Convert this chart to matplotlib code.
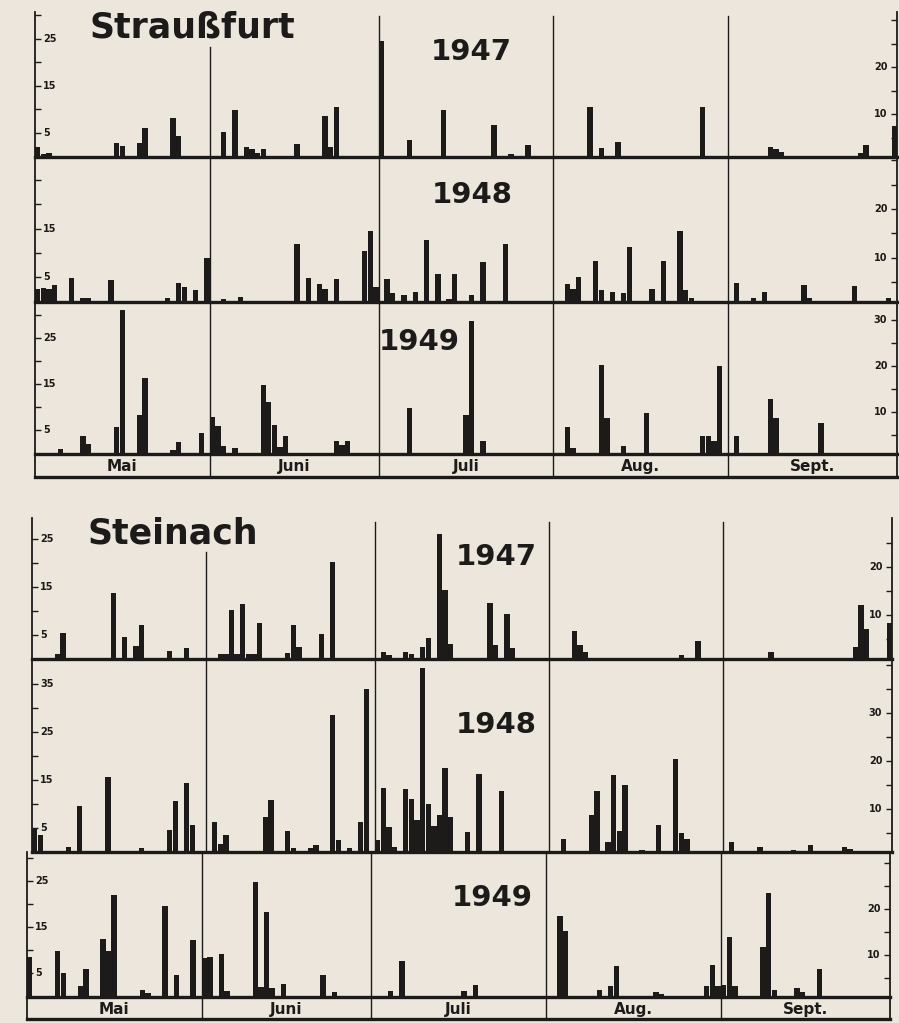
import numpy as np
import matplotlib.pyplot as plt

# Daily precipitation (mm), 1 May - 30 Sept; day 0 = 1 May
months = ['Mai', 'Juni', 'Juli', 'Aug.', 'Sept.']
month_days = [31, 30, 31, 31, 30]

# Straußfurt
strf_1947_day = [0, 1, 2, 14, 15, 18, 19, 24, 25, 33, 35, 37, 38, 39, 40, 46, 51, 52, 53, 61, 66, 72,
                 81, 84, 87, 98, 100, 103, 118, 130, 131, 132, 146, 147, 152]
strf_1947_mm = [2.0, 0.5, 0.8, 2.8, 2.2, 2.8, 6.0, 8.2, 4.3, 5.3, 9.9, 2.0, 1.5, 0.8, 1.6, 2.6, 8.7, 2.0,
                10.5, 24.5, 3.5, 9.9, 6.7, 0.6, 2.5, 10.6, 1.8, 3.0, 10.5, 2.1, 1.5, 1.0, 0.8, 2.5, 6.4]

strf_1948_day = [0, 1, 2, 3, 6, 8, 9, 13, 23, 25, 26, 28, 30, 33, 36, 46, 48, 50, 51, 53, 58, 59, 60,
                 62, 63, 65, 67, 69, 71, 73, 74, 77, 79, 83, 94, 95, 96, 99, 100, 102, 104, 105, 109,
                 111, 114, 115, 116, 124, 127, 129, 136, 137, 145, 151]
strf_1948_mm = [2.6, 2.8, 2.6, 3.4, 4.9, 0.8, 0.8, 4.4, 0.8, 3.7, 3.0, 2.4, 9.0, 0.6, 1.0, 11.8, 4.9,
                3.6, 2.5, 4.7, 10.4, 14.5, 2.9, 4.6, 1.8, 1.3, 2.0, 12.6, 5.6, 0.6, 5.6, 1.4, 8.2, 11.8,
                3.6, 2.5, 5.1, 8.4, 2.4, 2.0, 1.7, 11.1, 2.6, 8.4, 14.4, 2.4, 0.8, 3.9, 0.7, 1.9, 3.3,
                0.8, 3.2, 0.7]

strf_1949_day = [4, 8, 9, 14, 15, 18, 19, 24, 25, 29, 31, 32, 33, 35, 40, 41, 42, 43, 44, 53, 54, 55,
                 66, 76, 77, 79, 94, 95, 100, 101, 104, 108, 118, 119, 120, 121, 124, 130, 131, 139]
strf_1949_mm = [0.9, 3.8, 2.0, 5.8, 31.2, 8.3, 16.5, 0.7, 2.5, 4.5, 8.0, 5.9, 1.6, 1.2, 14.9, 11.2, 6.2,
                1.5, 3.8, 2.7, 1.8, 2.7, 9.8, 8.3, 28.8, 2.8, 5.7, 1.1, 19.3, 7.8, 1.7, 8.9, 3.7, 3.7,
                2.8, 19.1, 3.7, 11.8, 7.8, 6.7]

# Steinach
stei_1947_day = [4, 5, 14, 16, 18, 19, 24, 27, 33, 34, 35, 36, 37, 38, 39, 40, 45, 46, 47, 51, 53, 62,
                 63, 66, 67, 69, 70, 72, 73, 74, 81, 82, 84, 85, 96, 97, 98, 115, 118, 131, 146, 147,
                 148, 152]
stei_1947_mm = [1.0, 5.3, 13.7, 4.5, 2.6, 6.9, 1.6, 2.1, 1.0, 1.0, 10.2, 1.0, 11.3, 1.0, 1.0, 7.3, 1.2,
                6.9, 2.3, 5.1, 20.1, 1.4, 0.8, 1.4, 1.0, 2.3, 4.2, 25.9, 14.2, 3.1, 11.5, 2.8, 9.2, 2.1,
                5.7, 2.8, 1.3, 0.7, 3.6, 1.3, 2.4, 11.1, 6.1, 7.3]

stei_1948_day = [0, 1, 6, 8, 13, 19, 24, 25, 27, 28, 32, 33, 34, 41, 42, 45, 46, 49, 50, 53, 54, 56,
                 58, 59, 61, 62, 63, 64, 66, 67, 68, 69, 70, 71, 72, 73, 74, 77, 79, 83, 94, 99, 100,
                 102, 103, 104, 105, 108, 111, 114, 115, 116, 124, 129, 135, 138, 144, 145]
stei_1948_mm = [4.7, 3.5, 1.0, 9.5, 15.6, 0.8, 4.5, 10.6, 14.4, 5.6, 6.3, 1.7, 3.5, 7.3, 10.8, 4.3, 0.8,
                0.8, 1.5, 28.6, 2.4, 0.8, 6.3, 33.9, 2.4, 13.3, 5.2, 1.0, 13.2, 11.0, 6.6, 38.3, 10.1,
                5.4, 7.8, 17.4, 7.3, 4.2, 16.3, 12.8, 2.8, 7.8, 12.8, 2.1, 16.0, 4.3, 14.0, 0.4, 5.6,
                19.4, 4.0, 2.8, 2.1, 1.0, 0.4, 1.5, 1.0, 0.6]

stei_1949_day = [0, 5, 6, 9, 10, 13, 14, 15, 20, 21, 24, 26, 29, 31, 32, 34, 35, 40, 41, 42, 43, 45,
                 52, 54, 64, 66, 77, 79, 94, 95, 101, 103, 104, 111, 112, 120, 121, 122, 123, 124, 125,
                 130, 131, 132, 136, 137, 140]
stei_1949_mm = [8.5, 9.9, 5.1, 2.2, 6.0, 12.5, 9.9, 22.1, 1.4, 0.8, 19.6, 4.7, 12.2, 8.3, 8.5, 9.2, 1.1,
                24.9, 2.0, 18.3, 1.8, 2.7, 4.7, 0.9, 1.1, 7.8, 1.1, 2.5, 17.4, 14.3, 1.4, 2.3, 6.7, 0.9,
                0.6, 2.2, 6.9, 2.2, 2.5, 13.0, 2.2, 10.7, 22.5, 1.4, 1.8, 0.9, 5.9]

W, H = 899, 1023
PAPER = '#ece6dd'
INK = '#1c1b19'

ndays = sum(month_days)
bounds = np.cumsum(month_days)[:-1]

fig = plt.figure(figsize=(W / 100, H / 100), dpi=100, facecolor=PAPER)


def px_axes(left, right, top, bottom):
    return fig.add_axes([left / W, 1 - bottom / H, (right - left) / W, (bottom - top) / H])


def chart_row(box, ymax, days, mm, llabels, rlabels, first=False):
    ax = px_axes(*box)
    ax.set_facecolor('none')
    ax.set_xlim(0, ndays)
    ax.set_ylim(0, ymax)
    ax.bar(np.asarray(days) + 0.5, mm, width=0.95, color=INK, linewidth=0, zorder=2)
    for i, b in enumerate(bounds):
        frac = 1.0
        if first:
            frac = 0.76 if i == 0 else 0.97
        ax.axvline(b, ymax=frac, color=INK, lw=1.0, zorder=1)
    ax.spines['top'].set_visible(False)
    for s in ('left', 'right'):
        ax.spines[s].set_linewidth(1.3)
        ax.spines[s].set_color(INK)
    ax.spines['bottom'].set_linewidth(2.4)
    ax.spines['bottom'].set_color(INK)
    ax.set_xticks([])
    ax.set_yticks(np.arange(5, ymax - 0.5, 5))
    ax.tick_params(axis='y', direction='in', length=4, width=1.0, color=INK, labelleft=False)
    for v in llabels:
        ax.annotate(str(v), xy=(0, v), xycoords=('axes fraction', 'data'), xytext=(6, 0),
                    textcoords='offset points', ha='left', va='center', fontsize=7,
                    fontweight='bold', color=INK, zorder=1)

    # right-hand scale, drawn slightly offset as in the original
    off = 1.0
    axr = ax.twinx()
    axr.set_ylim(off, ymax + off)
    axr.set_yticks(np.arange(5, ymax + off - 0.5, 5))
    axr.tick_params(axis='y', direction='in', length=4, width=1.0, color=INK, labelright=False)
    for s in axr.spines.values():
        s.set_visible(False)
    for v in rlabels:
        axr.annotate(str(v), xy=(1, v), xycoords=('axes fraction', 'data'), xytext=(-7, 0),
                     textcoords='offset points', ha='right', va='center', fontsize=7,
                     fontweight='bold', color=INK)
    return ax


def label_row(box):
    ax = px_axes(*box)
    ax.set_facecolor('none')
    ax.set_xlim(0, ndays)
    ax.set_ylim(0, 1)
    for b in bounds:
        ax.axvline(b, color=INK, lw=1.0)
    ax.spines['top'].set_visible(False)
    for s in ('left', 'right'):
        ax.spines[s].set_linewidth(1.3)
        ax.spines[s].set_color(INK)
    ax.spines['bottom'].set_linewidth(2.4)
    ax.spines['bottom'].set_color(INK)
    ax.set_xticks([])
    ax.set_yticks([])
    starts = np.concatenate([[0], np.cumsum(month_days)[:-1]])
    for s0, n, m in zip(starts, month_days, months):
        ax.text(s0 + n / 2, 0.42, m, ha='center', va='center', fontsize=11,
                fontweight='bold', color=INK)


# Straußfurt panel
chart_row((35, 897, 12, 156.5), 30.7, strf_1947_day, strf_1947_mm, [5, 15, 25], [10, 20], first=True)
chart_row((35, 897, 156.5, 301.5), 29.8, strf_1948_day, strf_1948_mm, [5, 15], [10, 20])
chart_row((35, 897, 301.5, 453.5), 33.0, strf_1949_day, strf_1949_mm, [5, 15, 25], [10, 20, 30])
label_row((35, 897, 453.5, 476.5))

# Steinach panel
chart_row((32, 892, 518, 658.5), 29.3, stei_1947_day, stei_1947_mm, [5, 15, 25], [10, 20], first=True)
chart_row((32, 892, 658.5, 852), 40.3, stei_1948_day, stei_1948_mm, [5, 15, 25, 35], [10, 20, 30])
chart_row((26.7, 890, 852, 996.5), 31.4, stei_1949_day, stei_1949_mm, [5, 15, 25], [10, 20])
label_row((26.7, 890, 996.5, 1018.5))


def ftext(x, y, s, **kw):
    fig.text(x / W, 1 - y / H, s, color=INK, **kw)


ftext(90, 27, 'Straußfurt', fontsize=25, fontweight='bold', ha='left', va='center')
ftext(87, 533, 'Steinach', fontsize=25, fontweight='bold', ha='left', va='center')
ftext(471, 52, '1947', fontsize=21, fontweight='bold', ha='center', va='center')
ftext(472, 195, '1948', fontsize=21, fontweight='bold', ha='center', va='center')
ftext(419, 342, '1949', fontsize=21, fontweight='bold', ha='center', va='center')
ftext(496, 557, '1947', fontsize=21, fontweight='bold', ha='center', va='center')
ftext(496, 725, '1948', fontsize=21, fontweight='bold', ha='center', va='center')
ftext(492, 898, '1949', fontsize=21, fontweight='bold', ha='center', va='center')

fig.savefig('out.png', dpi=100, facecolor=PAPER)
